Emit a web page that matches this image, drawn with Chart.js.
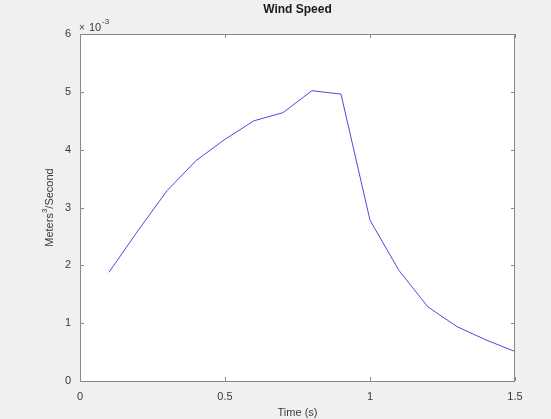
<!DOCTYPE html>
<html>
<head>
<meta charset="utf-8">
<script src="https://cdn.jsdelivr.net/npm/chart.js@4/dist/chart.umd.min.js"></script>
<style>
  html, body { margin: 0; padding: 0; background: #f0f0f0; }
  #wrap { width: 551px; height: 419px; }
</style>
</head>
<body>
<div id="wrap"><canvas id="windChart" width="551" height="419"></canvas></div>
<script>
// time in seconds
const timeS = [0.1, 0.2, 0.3, 0.4, 0.5, 0.6, 0.7, 0.8, 0.9, 1.0, 1.1, 1.2, 1.3, 1.4, 1.5];
// wind speed, in units of 1e-3 m^3/s (axis shows x10^-3)
const windSpeedE3 = [1.88, 2.60, 3.29, 3.81, 4.18, 4.50, 4.64, 5.02, 4.96, 2.78, 1.91, 1.28, 0.94, 0.71, 0.51];
const xTicks = [0, 0.5, 1, 1.5];
const yTicks = [0, 1, 2, 3, 4, 5, 6];

const axisGray = '#8a8a8a';
const textGray = '#3a3a3a';
const fontFam = '"Liberation Sans", Arial, sans-serif';

// white plot box + inside ticks + titles, drawn the matlab way
const matlabLook = {
    id: 'matlabLook',
    beforeDraw(chart) {
        const { ctx, chartArea: a } = chart;
        ctx.save();
        ctx.fillStyle = '#f0f0f0';
        ctx.fillRect(0, 0, chart.width, chart.height);
        ctx.fillStyle = '#ffffff';
        ctx.fillRect(a.left, a.top, a.right - a.left, a.bottom - a.top);
        ctx.restore();
    },
    afterDraw(chart) {
        const { ctx, chartArea: a, scales } = chart;
        ctx.save();
        ctx.strokeStyle = axisGray;
        ctx.lineWidth = 1;
        ctx.strokeRect(a.left + 0.5, a.top + 0.5, a.right - a.left - 1, a.bottom - a.top);
        const tl = 4;
        ctx.beginPath();
        xTicks.forEach(v => {
            const px = Math.round(scales.x.getPixelForValue(v)) + 0.5;
            ctx.moveTo(px, a.bottom); ctx.lineTo(px, a.bottom - tl);
            ctx.moveTo(px, a.top); ctx.lineTo(px, a.top + tl);
        });
        yTicks.forEach(v => {
            const py = Math.round(scales.y.getPixelForValue(v)) + 0.5;
            ctx.moveTo(a.left, py); ctx.lineTo(a.left + tl, py);
            ctx.moveTo(a.right, py); ctx.lineTo(a.right - tl, py);
        });
        ctx.stroke();

        // title
        ctx.fillStyle = '#1a1a1a';
        ctx.font = 'bold 12px ' + fontFam;
        ctx.textAlign = 'center';
        ctx.textBaseline = 'middle';
        ctx.fillText('Wind Speed', (a.left + a.right) / 2, 10);

        // x axis title
        ctx.fillStyle = textGray;
        ctx.font = '11px ' + fontFam;
        ctx.fillText('Time (s)', (a.left + a.right) / 2, 413);

        // y axis title, rotated
        ctx.save();
        ctx.translate(50, (a.top + a.bottom) / 2);
        ctx.rotate(-Math.PI / 2);
        ctx.textAlign = 'center';
        ctx.textBaseline = 'middle';
        const base = 'Meters';
        const sup = '3';
        const rest = '/Second';
        ctx.font = '11px ' + fontFam;
        const wBase = ctx.measureText(base).width;
        const wRest = ctx.measureText(rest).width;
        ctx.font = '8px ' + fontFam;
        const wSup = ctx.measureText(sup).width;
        const total = wBase + wSup + wRest;
        let x0 = -total / 2;
        ctx.textAlign = 'left';
        ctx.font = '11px ' + fontFam;
        ctx.fillText(base, x0, 0);
        ctx.font = '8px ' + fontFam;
        ctx.fillText(sup, x0 + wBase, -5);
        ctx.font = '11px ' + fontFam;
        ctx.fillText(rest, x0 + wBase + wSup, 0);
        ctx.restore();

        // exponent label
        ctx.textAlign = 'left';
        ctx.textBaseline = 'middle';
        ctx.font = '10px ' + fontFam;
        ctx.fillText('\u00d7', a.left - 1, 28);
        ctx.font = '11px ' + fontFam;
        ctx.fillText('10', a.left + 9, 28);
        ctx.font = '8px ' + fontFam;
        ctx.fillText('-3', a.left + 22, 22);
        ctx.restore();
    }
};

new Chart(document.getElementById('windChart'), {
    type: 'line',
    data: {
        datasets: [{
            label: 'Wind Speed',
            data: timeS.map((t, i) => ({ x: t, y: windSpeedE3[i] })),
            borderColor: '#4a4ae6',
            borderWidth: 1,
            pointRadius: 0,
            tension: 0,
            fill: false
        }]
    },
    options: {
        responsive: false,
        animation: false,
        layout: { padding: { left: 0, right: 36, top: 34, bottom: 0 } },
        plugins: { legend: { display: false }, tooltip: { enabled: false } },
        scales: {
            x: {
                type: 'linear',
                min: 0,
                max: 1.5,
                afterFit: s => { s.height = 38; },
                afterBuildTicks: s => { s.ticks = xTicks.map(v => ({ value: v })); },
                grid: { display: false, drawTicks: false },
                border: { display: false },
                ticks: {
                    padding: 9,
                    color: textGray,
                    font: { family: fontFam, size: 11 },
                    callback: v => String(v)
                }
            },
            y: {
                min: 0,
                max: 6,
                afterFit: s => { s.width = 80; },
                afterBuildTicks: s => { s.ticks = yTicks.map(v => ({ value: v })); },
                grid: { display: false, drawTicks: false },
                border: { display: false },
                ticks: {
                    padding: 9,
                    color: textGray,
                    font: { family: fontFam, size: 11 },
                    callback: v => String(v)
                }
            }
        }
    },
    plugins: [matlabLook]
});
</script>
</body>
</html>
